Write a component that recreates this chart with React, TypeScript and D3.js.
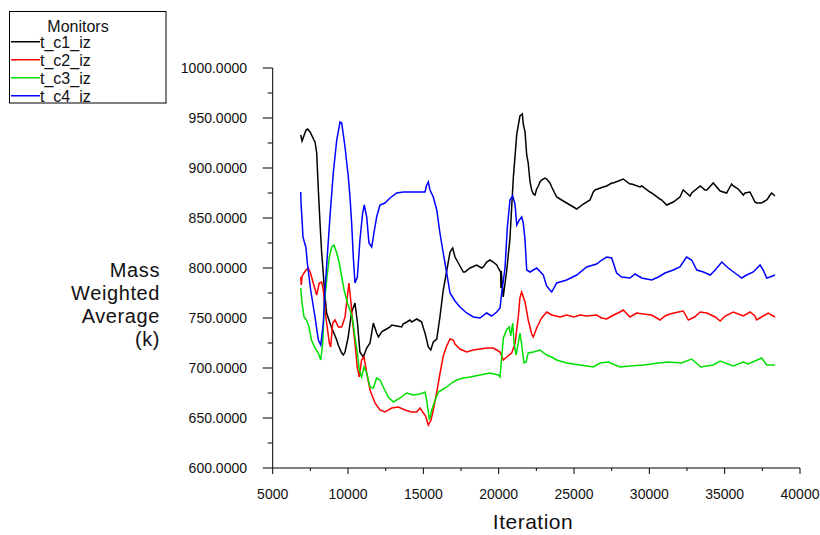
import React from "react";
import * as d3 from "d3";

type Pt = [number, number];

const seriesNames = ["t_c1_iz", "t_c2_iz", "t_c3_iz", "t_c4_iz"];
const seriesColors = ["#000000", "#ff0000", "#00e000", "#0000ff"];

const xTicks = [5000, 10000, 15000, 20000, 25000, 30000, 35000, 40000];
const yTicks = [600, 650, 700, 750, 800, 850, 900, 950, 1000];
const yTitle = ["Mass", "Weighted", "Average", "(k)"];
const xTitle = "Iteration";
const legendTitle = "Monitors";

const c1: Pt[] = [
  [6860, 933], [6950, 927], [7210, 938], [7320, 939], [7480, 936], [7740, 928], [7810, 926],
  [7920, 915], [8030, 878], [8140, 845], [8250, 815], [8340, 798], [8450, 775], [8580, 755], [8800, 745],
  [8920, 740], [9250, 728], [9350, 723], [9580, 715], [9690, 713], [9800, 716], [10000, 730],
  [10240, 756], [10460, 765], [10620, 746], [10790, 716], [11010, 711], [11240, 720], [11460, 725],
  [11680, 745], [11900, 735], [12020, 731], [12230, 736], [12320, 737], [12560, 739], [12790, 741],
  [12900, 743], [13230, 742], [13560, 741], [13650, 744], [13900, 746], [14110, 748], [14230, 746],
  [14560, 749], [14780, 747], [14890, 746], [15000, 740], [15110, 735], [15330, 721], [15490, 718],
  [15660, 726], [15890, 729], [16100, 751], [16320, 778], [16550, 797], [16770, 816], [16950, 820],
  [17100, 811], [17210, 808], [17430, 802], [17650, 796], [17760, 796], [18100, 800], [18540, 803],
  [18870, 800], [18980, 801], [19200, 806], [19420, 808], [19640, 806], [19870, 803], [19970, 800],
  [20130, 796], [20150, 780], [20170, 797], [20300, 771], [20530, 797], [20750, 830], [20970, 890],
  [21200, 934], [21410, 952], [21570, 954], [21630, 944], [21750, 936], [21860, 913], [21960, 905],
  [22080, 886], [22190, 878], [22300, 874], [22410, 873], [22520, 879], [22630, 882], [22740, 886],
  [22850, 888], [23070, 890], [23190, 889], [23400, 885], [23520, 881], [23850, 871], [24070, 869],
  [24510, 865], [24850, 862], [25180, 859], [25620, 864], [26060, 868], [26280, 876], [26390, 878],
  [26940, 881], [27170, 882], [27500, 885], [27610, 885], [28270, 889], [28710, 884], [28830, 884],
  [29380, 881], [29490, 882], [30040, 876], [30150, 875], [30710, 869], [30820, 868], [31150, 863],
  [31590, 866], [32030, 871], [32150, 875], [32250, 878], [32700, 872], [32810, 875], [33380, 882],
  [33700, 878], [33820, 878], [34240, 885], [34700, 877], [35130, 875], [35460, 884], [35570, 882],
  [35900, 879], [36240, 873], [36350, 875], [36680, 876], [37010, 866], [37120, 865], [37460, 865],
  [37560, 866], [37790, 868], [37890, 870], [38010, 873], [38120, 875], [38340, 872],
];

const c2: Pt[] = [
  [6860, 791], [6900, 783], [6950, 792], [7210, 798], [7360, 800], [7510, 795], [7690, 785],
  [7920, 773], [8090, 785], [8250, 786], [8360, 778], [8470, 758], [8580, 745], [8760, 725],
  [8850, 721], [8980, 745], [9140, 748], [9360, 741], [9580, 741], [9800, 751], [9950, 771],
  [10060, 785], [10180, 768], [10310, 745], [10460, 725], [10610, 701], [10750, 691], [10900, 708],
  [11060, 711], [11240, 695], [11460, 678], [11790, 665], [12120, 658], [12450, 656], [12900, 660],
  [13340, 661], [13780, 658], [14220, 656], [14560, 656], [14780, 660], [14950, 656], [15150, 652],
  [15330, 643], [15510, 648], [15660, 658], [15880, 675], [16110, 695], [16320, 712], [16550, 722],
  [16770, 729], [16990, 728], [17100, 724], [17430, 719], [17870, 716], [18320, 718], [18760, 719],
  [19200, 720], [19640, 720], [19870, 718], [20090, 716], [20310, 708], [20530, 711], [20860, 715],
  [21080, 724], [21300, 751], [21410, 770], [21520, 776], [21750, 766], [21960, 748], [22190, 734],
  [22300, 731], [22520, 740], [22850, 750], [23190, 756], [23520, 753], [24070, 751], [24510, 753],
  [25000, 751], [25400, 753], [25840, 752], [26500, 753], [26840, 750], [27170, 749], [27500, 752],
  [28050, 756], [28270, 758], [28710, 751], [29160, 755], [29600, 754], [30150, 753], [30710, 748],
  [31040, 752], [31370, 754], [31920, 756], [32250, 757], [32590, 748], [33000, 751], [33380, 756],
  [33820, 755], [34370, 751], [34700, 747], [35030, 752], [35570, 756], [35900, 754], [36240, 752],
  [36680, 756], [37010, 752], [37120, 748], [37560, 752], [37890, 755], [38340, 751],
];

const c3: Pt[] = [
  [6860, 780], [6950, 765], [7080, 751], [7240, 748], [7410, 741], [7570, 728], [7810, 720],
  [8030, 715], [8190, 708], [8320, 725], [8430, 765], [8580, 788], [8760, 811], [8920, 821],
  [9070, 823], [9250, 815], [9420, 805], [9580, 791], [9740, 778], [9960, 765], [10130, 758],
  [10310, 748], [10460, 731], [10620, 715], [10750, 698], [10900, 691], [11060, 701], [11240, 695],
  [11460, 681], [11680, 680], [11900, 690], [12120, 688], [12340, 681], [12670, 671], [13010, 666],
  [13450, 670], [13890, 675], [14330, 673], [14780, 674], [15110, 676], [15220, 668], [15400, 648],
  [15560, 658], [15780, 668], [16000, 676], [16220, 678], [16550, 681], [16880, 685], [17210, 688],
  [17650, 690], [18100, 691], [18760, 693], [19420, 695], [19970, 693], [20090, 691], [20200, 711],
  [20310, 730], [20530, 738], [20700, 741], [20800, 732], [20930, 745], [21020, 725], [21150, 713],
  [21300, 725], [21410, 735], [21520, 724], [21680, 705], [21820, 706], [21960, 715], [22300, 716],
  [22740, 718], [23190, 713], [23500, 711], [23850, 708], [24510, 705], [25400, 703], [26280, 701],
  [26730, 705], [27280, 706], [28050, 701], [28710, 702], [29600, 703], [30600, 705], [31260, 706],
  [32140, 705], [32800, 709], [33420, 701], [34240, 703], [34700, 707], [35570, 702], [36240, 706],
  [36570, 704], [37450, 710], [37790, 703], [38340, 703],
];

const c4: Pt[] = [
  [6860, 876], [6880, 865], [6960, 845], [7010, 831], [7100, 826], [7200, 821], [7300, 805],
  [7520, 778], [7810, 751], [8030, 728], [8190, 723], [8360, 745], [8470, 778], [8620, 811],
  [8800, 851], [9020, 895], [9250, 928], [9470, 946], [9580, 945], [9800, 921], [10020, 891],
  [10130, 871], [10240, 845], [10350, 811], [10460, 785], [10620, 791], [10790, 828], [10970, 855],
  [11080, 863], [11240, 851], [11390, 825], [11570, 821], [11720, 835], [11900, 851], [12120, 863],
  [12450, 865], [12790, 870], [13230, 875], [13670, 876], [14110, 876], [14560, 876], [15110, 876],
  [15220, 883], [15330, 886], [15440, 878], [15660, 871], [15890, 858], [16100, 835], [16320, 815],
  [16550, 795], [16770, 775], [17100, 767], [17430, 761], [17870, 755], [18320, 751], [18760, 750],
  [19200, 755], [19530, 752], [19870, 756], [20090, 760], [20200, 775], [20420, 800], [20570, 840],
  [20750, 868], [20930, 872], [21080, 864], [21200, 843], [21370, 848], [21530, 851], [21630, 845],
  [21750, 828], [21860, 798], [22080, 796], [22520, 800], [22960, 793], [23180, 782], [23400, 778],
  [23520, 776], [23850, 785], [24290, 787], [24510, 788], [25180, 793], [25840, 801], [26500, 804],
  [26840, 808], [27170, 811], [27500, 810], [27830, 795], [28160, 791], [28710, 790], [29050, 794],
  [29490, 790], [30160, 788], [30600, 791], [31040, 795], [31590, 798], [32030, 801], [32470, 811],
  [32810, 808], [33150, 798], [33590, 796], [34040, 793], [34370, 798], [34810, 806], [35240, 800],
  [35680, 795], [36130, 790], [36460, 793], [36900, 796], [37350, 803], [37560, 798], [37790, 790],
  [38010, 791], [38340, 793],
];

const allSeries = [c1, c2, c3, c4];

const FONT = "'Liberation Sans', Arial, Helvetica, sans-serif";

export default function App() {
  const W = 820;
  const H = 535;
  const x = d3.scaleLinear().domain([5000, 40000]).range([272.7, 800]);
  const y = d3.scaleLinear().domain([600, 1000]).range([468, 68]);
  const line = d3
    .line<Pt>()
    .x((d) => x(d[0]))
    .y((d) => y(d[1]));

  const xMinor = d3.range(5000, 40001, 2500).filter((v) => v % 5000 !== 0);
  const yMinor = d3.range(625, 1000, 50);
  const fmtY = d3.format(".4f");

  const legendLineY = (i: number) => 41.7 + i * 18;

  return (
    <svg
      width={W}
      height={H}
      style={{ position: "absolute", left: 0, top: 0, background: "#fff" }}
      fontFamily={FONT}
    >
      <defs>
        <clipPath id="legclip">
          <rect x={9.5} y={12} width={156} height={90.5} />
        </clipPath>
      </defs>
      <rect width={W} height={H} fill="#fff" />

      {/* axes */}
      <line x1={x(5000)} x2={x(40000)} y1={y(600)} y2={y(600)} stroke="#000" strokeWidth={1} />
      <line x1={x(5000)} x2={x(5000)} y1={y(600)} y2={y(1000)} stroke="#000" strokeWidth={1} />

      {/* y ticks */}
      {yTicks.map((v) => (
        <g key={"yt" + v}>
          <line x1={x(5000) - 10} x2={x(5000)} y1={y(v)} y2={y(v)} stroke="#000" />
          <text
            x={247}
            y={y(v)}
            dy="0.35em"
            textAnchor="end"
            fontSize={14}
            fill="#111"
          >
            {fmtY(v)}
          </text>
        </g>
      ))}
      {yMinor.map((v) => (
        <line key={"ym" + v} x1={x(5000) - 5} x2={x(5000)} y1={y(v)} y2={y(v)} stroke="#000" />
      ))}

      {/* x ticks */}
      {xTicks.map((v) => (
        <g key={"xt" + v}>
          <line x1={x(v)} x2={x(v)} y1={y(600)} y2={y(600) + 6} stroke="#000" />
          <text x={x(v)} y={499} textAnchor="middle" fontSize={14} fill="#111">
            {String(v)}
          </text>
        </g>
      ))}
      {xMinor.map((v) => (
        <line key={"xm" + v} x1={x(v)} x2={x(v)} y1={y(600)} y2={y(600) + 3} stroke="#000" />
      ))}

      {/* titles */}
      {yTitle.map((t, i) => (
        <text
          key={t}
          x={160}
          y={277 + i * 23}
          textAnchor="end"
          fontSize={20}
          letterSpacing={0.6}
          fill="#111"
        >
          {t}
        </text>
      ))}
      <text x={533} y={529} textAnchor="middle" fontSize={21} letterSpacing={0.5} fill="#111">
        {xTitle}
      </text>

      {/* series */}
      {allSeries.map((s, i) => (
        <path
          key={seriesNames[i]}
          d={line(s) || ""}
          fill="none"
          stroke={seriesColors[i]}
          strokeWidth={1.5}
          strokeLinejoin="miter"
        />
      ))}

      {/* legend */}
      <rect x={9.5} y={11.5} width={156.5} height={91.5} fill="#fff" stroke="#000" strokeWidth={1} />
      <g clipPath="url(#legclip)">
        <text x={78} y={31.5} textAnchor="middle" fontSize={16} fill="#111">
          {legendTitle}
        </text>
        {seriesNames.map((n, i) => (
          <g key={"lg" + n}>
            <line
              x1={11}
              x2={40}
              y1={legendLineY(i)}
              y2={legendLineY(i)}
              stroke={seriesColors[i]}
              strokeWidth={1.5}
            />
            <text x={40} y={legendLineY(i) + 6.5} fontSize={16} fill="#111">
              {n}
            </text>
          </g>
        ))}
      </g>
    </svg>
  );
}
